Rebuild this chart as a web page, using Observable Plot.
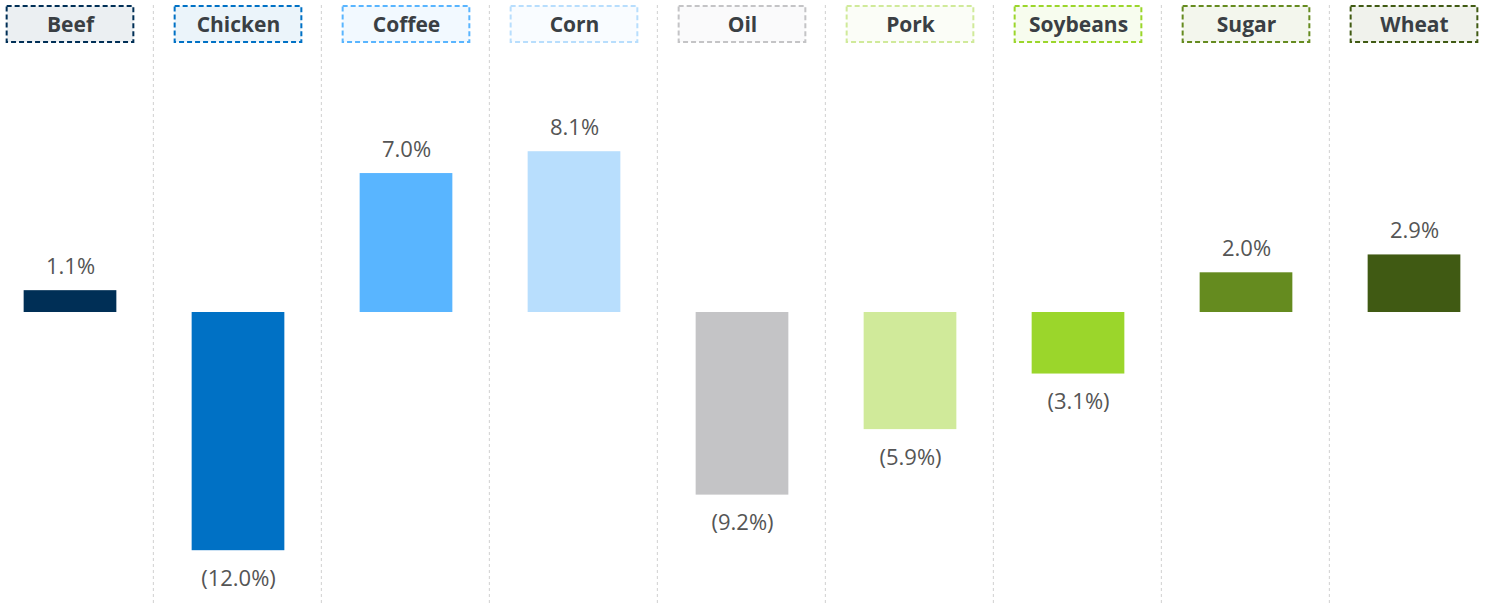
<!DOCTYPE html>
<html>
<head>
<meta charset="utf-8">
<script src="https://cdn.jsdelivr.net/npm/d3@7"></script>
<script src="https://cdn.jsdelivr.net/npm/@observablehq/plot@0.6"></script>
<style>
  html, body { margin: 0; padding: 0; background: #fff; }
  #chart svg { display: block; }
</style>
</head>
<body>
<div id="chart"></div>
<script>
// Data
const categories = ["Beef", "Chicken", "Coffee", "Corn", "Oil", "Pork", "Soybeans", "Sugar", "Wheat"];
const values = [1.1, -12.0, 7.0, 8.1, -9.2, -5.9, -3.1, 2.0, 2.9];
const colors = ["#002f56", "#0071c5", "#59b5ff", "#b8defd", "#c4c4c6", "#d0ea9a", "#9bd62b", "#658b1f", "#405a13"];

const data = categories.map((name, i) => ({name, value: values[i], color: colors[i]}));

const W = 1486;
const xRange = [-16.5, 1498.2];
const step = (xRange[1] - xRange[0]) / categories.length;
const barW = 93;
const boxW = 127;
const fmt = v => v < 0 ? `(${Math.abs(v).toFixed(1)}%)` : `${v.toFixed(1)}%`;
const labelFont = "Open Sans, Noto Sans, sans-serif";
const sepStyle = {stroke: "#d0d0d0", strokeWidth: 1, strokeDasharray: "3,3"};

// Header plot
const header = Plot.plot({
  width: W,
  height: 48,
  marginLeft: 0, marginRight: 0, marginTop: 5, marginBottom: 5,
  x: {domain: categories, range: xRange, padding: 0, axis: null},
  y: {domain: ["h"], padding: 0, axis: null},
  color: {type: "identity"},
  marks: [
    Plot.ruleX(categories.slice(1), {x: d => d, dx: -step / 2, ...sepStyle, insetBottom: -5}),
    Plot.cell(data, {
      x: "name", y: () => "h",
      fill: "color", fillOpacity: 0.08,
      stroke: "color", strokeWidth: 2, strokeDasharray: "5,3",
      insetLeft: (step - boxW) / 2 + 1, insetRight: (step - boxW) / 2 - 1,
      insetTop: 1, insetBottom: 1
    }),
    Plot.text(data, {
      x: "name", y: () => "h", text: "name",
      fontSize: 21, fontWeight: 700, fill: "#3a3f44",
      fontFamily: "Open Sans, Noto Sans, sans-serif", dy: 1, dx: 1
    })
  ]
});

// Bars plot
const bars = Plot.plot({
  width: W,
  height: 555,
  marginLeft: 0, marginRight: 0, marginTop: 0, marginBottom: 0,
  x: {domain: categories, range: xRange, padding: 0, axis: null},
  y: {domain: [-14.66, 13.3], axis: null},
  color: {type: "identity"},
  marks: [
    Plot.ruleX(categories.slice(1), {x: d => d, dx: -step / 2, ...sepStyle}),
    Plot.barY(data, {
      x: "name", y: "value", fill: "color",
      insetLeft: (step - barW) / 2 + 1, insetRight: (step - barW) / 2 - 1
    }),
    Plot.text(data.filter(d => d.value >= 0), {
      x: "name", y: "value", text: d => fmt(d.value),
      dy: -24, dx: 1, fontSize: 22, fontWeight: 400, fill: "#555555", fontFamily: labelFont
    }),
    Plot.text(data.filter(d => d.value < 0), {
      x: "name", y: "value", text: d => fmt(d.value),
      dy: 28, dx: 1, fontSize: 22, fontWeight: 400, fill: "#555555", fontFamily: labelFont
    })
  ]
});

const root = document.getElementById("chart");
root.appendChild(header);
root.appendChild(bars);
</script>
</body>
</html>
